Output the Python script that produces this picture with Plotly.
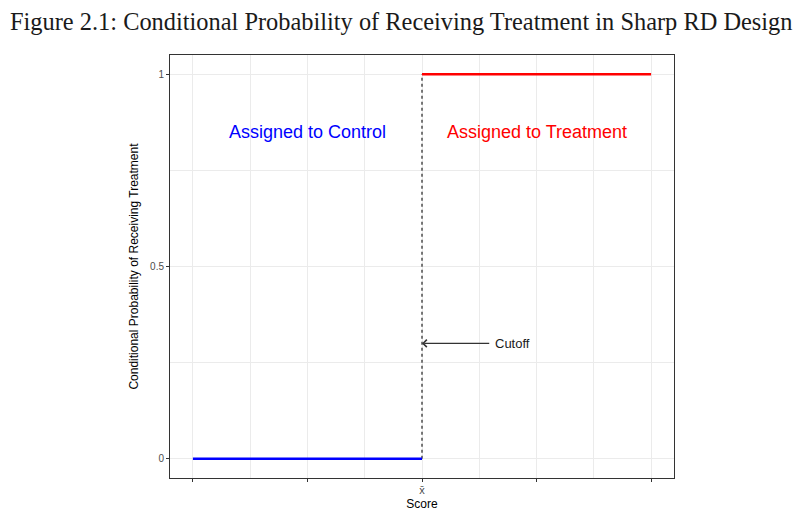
import plotly.graph_objects as go

# data
control_x = [-1, 0]
control_y = [0, 0]
treat_x = [0, 1]
treat_y = [1, 1]
cutoff_x = [0, 0]
cutoff_y = [0, 1]
x_ticks = [-1, -0.5, 0, 0.5, 1]
x_labels = ['', '', 'x\u0304', '', '']
y_ticks = [0, 0.5, 1]
y_labels = ['0', '0.5', '1']

fig = go.Figure()

# dotted cutoff line
fig.add_trace(go.Scatter(x=cutoff_x, y=cutoff_y, mode='lines',
                         line=dict(color='#333333', width=1.3, dash='dot'),
                         hoverinfo='skip', showlegend=False))

fig.add_trace(go.Scatter(x=control_x, y=control_y, mode='lines',
                         line=dict(color='#0000ff', width=2.6),
                         showlegend=False))
fig.add_trace(go.Scatter(x=treat_x, y=treat_y, mode='lines',
                         line=dict(color='#ff0000', width=2.6),
                         showlegend=False))

# region labels
fig.add_annotation(x=-0.5, y=0.85, text='Assigned to Control', showarrow=False,
                   font=dict(family='Liberation Sans, Arial', size=18, color='#0000ff'))
fig.add_annotation(x=0.5, y=0.85, text='Assigned to Treatment', showarrow=False,
                   font=dict(family='Liberation Sans, Arial', size=18, color='#ff0000'))

# cutoff arrow
fig.add_annotation(x=0, y=0.3, ax=0.3, ay=0.3, axref='x', ayref='y', xref='x', yref='y',
                   text='', showarrow=True, arrowhead=4, arrowsize=1.3, arrowwidth=1.1,
                   arrowcolor='#333333', standoff=0)
fig.add_annotation(x=0.31, y=0.3, text='Cutoff', showarrow=False, xanchor='left',
                   font=dict(family='Liberation Sans, Arial', size=13, color='#1a1a1a'))

# figure title
fig.add_annotation(x=(392.5 - 162) / 504, y=1, xref='paper', yref='paper', yshift=34,
                   yanchor='middle', xanchor='center', showarrow=False,
                   text='Figure 2.1: Conditional Probability of Receiving Treatment in Sharp RD Design',
                   font=dict(family='Liberation Serif, DejaVu Serif', size=24.4, color='#1a1a1a'))

fig.update_xaxes(range=[-1.1, 1.1], tickvals=x_ticks, ticktext=x_labels,
                 ticks='outside', ticklen=3, tickcolor='#333333', tickwidth=1,
                 tickfont=dict(family='Liberation Sans, Arial', size=11, color='#4d4d4d'),
                 ticklabelstandoff=-1,
                 showgrid=True, gridcolor='#ebebeb', gridwidth=1,
                 minor=dict(tickvals=[-0.75, -0.25, 0.25, 0.75], showgrid=True,
                            gridcolor='#ebebeb', gridwidth=0.6),
                 showline=True, linecolor='#333333', linewidth=1, mirror=True,
                 zeroline=False, automargin=False,
                 title=dict(text='Score', standoff=4,
                            font=dict(family='Liberation Sans, Arial', size=12, color='#000000')))
fig.update_yaxes(range=[-0.05, 1.05], tickvals=y_ticks, ticktext=y_labels,
                 ticks='outside', ticklen=3, tickcolor='#333333', tickwidth=1,
                 tickfont=dict(family='Liberation Sans, Arial', size=10, color='#4d4d4d'),
                 showgrid=True, gridcolor='#ebebeb', gridwidth=1,
                 minor=dict(tickvals=[0.25, 0.75], showgrid=True,
                            gridcolor='#ebebeb', gridwidth=0.6),
                 showline=True, linecolor='#333333', linewidth=1, mirror=True,
                 zeroline=False, automargin=False,
                 title=dict(text='Conditional Probability of Receiving Treatment', standoff=8,
                            font=dict(family='Liberation Sans, Arial', size=12, color='#000000')))

# page body adds an 8px margin, so the figure starts at (8, 8) in the window
fig.update_layout(width=785, height=508,
                  margin=dict(l=162, r=119, t=47, b=38),
                  plot_bgcolor='white', paper_bgcolor='white')

fig.write_html('out.html')
